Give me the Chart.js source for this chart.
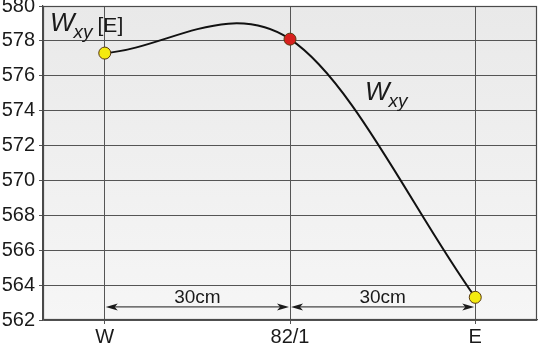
<!DOCTYPE html>
<html>
<head>
<meta charset="utf-8">
<script src="https://cdn.jsdelivr.net/npm/chart.js@4/dist/chart.umd.min.js"></script>
<style>
  html, body { margin: 0; padding: 0; background: #fff; }
  #wrap { width: 539px; height: 344px; }
</style>
</head>
<body>
<div id="wrap"><canvas id="chart"></canvas></div>
<script>
const stations = ['W', '82/1', 'E'];
const wxy = [577.3, 578.1, 563.3];
const pointColors = ['#f4ea10', '#d8201e', '#f4ea10'];
const yTicks = [562, 564, 566, 568, 570, 572, 574, 576, 578, 580];
const spanLabels = ['30cm', '30cm'];
const arrowLevel = 562.75;

const FONT = '"Liberation Sans", Arial, sans-serif';

// shaded plot background + frame around the plot
const frame = {
  id: 'frame',
  beforeDraw(chart) {
    const { ctx, chartArea: a } = chart;
    const g = ctx.createLinearGradient(0, a.top, 0, a.bottom);
    g.addColorStop(0, '#e9e9e9');
    g.addColorStop(1, '#f6f6f6');
    ctx.save();
    ctx.fillStyle = g;
    ctx.fillRect(a.left, a.top, a.right - a.left, a.bottom - a.top);
    ctx.restore();
  },
  afterDraw(chart) {
    const { ctx, chartArea: a } = chart;
    ctx.save();
    ctx.strokeStyle = '#4a4a4a';
    ctx.lineWidth = 1.2;
    ctx.strokeRect(a.left + 0.5, a.top + 0.5, a.right - a.left - 1, a.bottom - a.top - 1);
    ctx.restore();
  }
};

// x-parametric smoothing: finite-difference tangents, arms of a third of the step
const smooth = {
  id: 'smooth',
  beforeDatasetsDraw(chart) {
    chart.getSortedVisibleDatasetMetas().forEach(meta => {
      const line = meta.dataset;
      if (!line) return;
      line.updateControlPoints(chart.chartArea, 'x');
      const p = meta.data;
      const n = p.length;
      for (let i = 0; i < n; i++) {
        const a = p[Math.max(i - 1, 0)], b = p[Math.min(i + 1, n - 1)];
        const m = (b.y - a.y) / (b.x - a.x);
        const hl = i > 0 ? (p[i].x - p[i - 1].x) / 3 : 0;
        const hr = i < n - 1 ? (p[i + 1].x - p[i].x) / 3 : 0;
        p[i].cp1x = p[i].x - hl;
        p[i].cp1y = p[i].y - m * hl;
        p[i].cp2x = p[i].x + hr;
        p[i].cp2y = p[i].y + m * hr;
      }
      line._path = undefined;
    });
  }
};

function arrowHead(ctx, x, y, dir) {
  ctx.beginPath();
  ctx.moveTo(x, y);
  ctx.lineTo(x - dir * 12, y - 3.5);
  ctx.lineTo(x - dir * 9, y);
  ctx.lineTo(x - dir * 12, y + 3.5);
  ctx.closePath();
  ctx.fill();
}

function drawWxy(ctx, x, y, suffix) {
  ctx.font = `italic 26px ${FONT}`;
  ctx.fillText('W', x, y);
  x += ctx.measureText('W').width - 1;
  ctx.font = `italic 19px ${FONT}`;
  ctx.fillText('xy', x, y + 7);
  x += ctx.measureText('xy').width + 5;
  if (suffix) {
    ctx.font = `21px ${FONT}`;
    ctx.fillText(suffix, x, y + 1);
  }
}

// distance arrows and labels
const notes = {
  id: 'notes',
  afterDatasetsDraw(chart) {
    const { ctx, chartArea: a } = chart;
    const xs = chart.scales.x, ys = chart.scales.y;
    ctx.save();
    ctx.fillStyle = '#1a1a1a';
    ctx.strokeStyle = '#1a1a1a';
    ctx.textBaseline = 'alphabetic';
    const yA = ys.getPixelForValue(arrowLevel);
    for (let i = 0; i < spanLabels.length; i++) {
      const x0 = xs.getPixelForValue(i) + 1;
      const x1 = xs.getPixelForValue(i + 1) - 1;
      ctx.lineWidth = 1;
      ctx.beginPath();
      ctx.moveTo(x0 + 6, yA);
      ctx.lineTo(x1 - 6, yA);
      ctx.stroke();
      arrowHead(ctx, x0, yA, -1);
      arrowHead(ctx, x1, yA, 1);
      ctx.font = `19px ${FONT}`;
      ctx.textAlign = 'center';
      ctx.fillText(spanLabels[i], (x0 + x1) / 2, yA - 4);
    }
    ctx.textAlign = 'left';
    drawWxy(ctx, a.left + 7, a.top + 25, '[E]');
    drawWxy(ctx, a.left + 322, a.top + 94, null);
    ctx.restore();
  }
};

new Chart(document.getElementById('chart'), {
  type: 'line',
  data: {
    datasets: [{
      data: wxy.map((v, i) => ({ x: i, y: v })),
      borderColor: '#111',
      borderWidth: 2,
      tension: 0.4,
      fill: false,
      pointRadius: 6,
      pointHoverRadius: 6,
      pointBackgroundColor: pointColors,
      pointBorderColor: '#5a3a10',
      pointBorderWidth: 1
    }]
  },
  options: {
    responsive: true,
    maintainAspectRatio: false,
    animation: false,
    layout: { autoPadding: false, padding: { top: 6, right: 2, left: 0, bottom: 0 } },
    plugins: { legend: { display: false }, tooltip: { enabled: false } },
    scales: {
      x: {
        type: 'linear',
        min: -1 / 3,
        max: 7 / 3,
        afterBuildTicks: s => { s.ticks = stations.map((_, i) => ({ value: i })); },
        afterFit: s => { s.height = 24; s.paddingLeft = 0; s.paddingRight = 0; },
        ticks: {
          callback: v => stations[v],
          color: '#1a1a1a',
          font: { family: FONT, size: 20 },
          padding: 1
        },
        grid: { color: '#555', lineWidth: 1, tickLength: 4 },
        border: { color: '#4a4a4a', width: 1.2 }
      },
      y: {
        min: 562,
        max: 580,
        afterBuildTicks: s => { s.ticks = yTicks.map(v => ({ value: v })); },
        afterFit: s => { s.width = 43; s.paddingTop = 0; s.paddingBottom = 0; },
        ticks: {
          color: '#1a1a1a',
          font: { family: FONT, size: 20 },
          padding: 4
        },
        grid: { color: '#555', lineWidth: 1, tickLength: 4 },
        border: { color: '#4a4a4a', width: 1.2 }
      }
    }
  },
  plugins: [frame, smooth, notes]
});
</script>
</body>
</html>
